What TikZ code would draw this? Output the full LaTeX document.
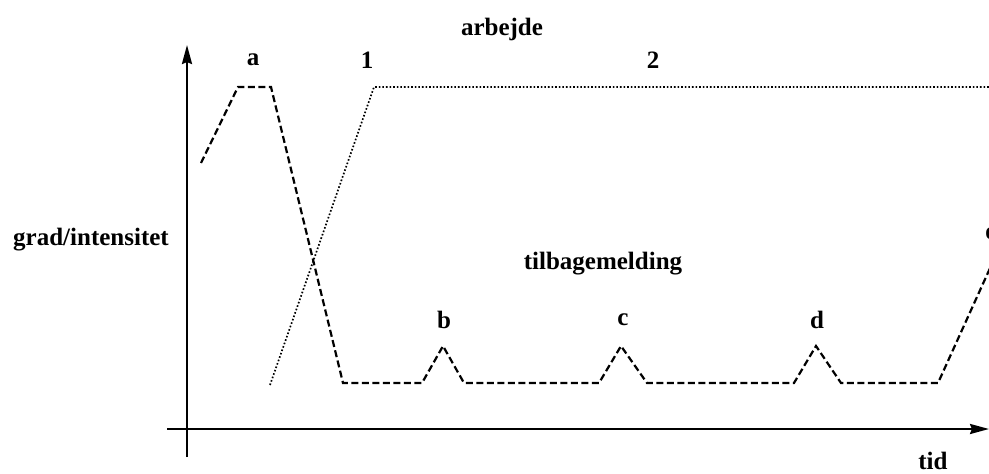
\documentclass[tikz,border=0pt]{standalone}
\usepackage{fontspec}
\setmainfont{Liberation Serif}
\usetikzlibrary{arrows.meta}
\begin{document}
\begin{tikzpicture}[x=1pt,y=-1pt,
  lbl/.style={font=\fontsize{25}{28}\selectfont\bfseries, inner sep=0pt},
  axis/.style={line width=2.4pt, -{Stealth[length=19pt,width=10pt,inset=2pt]}},
  fb/.style={line width=2.2pt, dash pattern=on 7pt off 3.5pt, line join=miter},
  work/.style={line width=1.7pt, dash pattern=on 1.6pt off 2pt}]
\useasboundingbox (0,0) rectangle (989,474);
% axes
\coordinate (yb) at (187,457);
\coordinate (yt) at (187,45);
\coordinate (xl) at (167,429);
\coordinate (xr) at (989,429);
\draw[axis] (yb) -- (yt);
\draw[axis] (xl) -- (xr);
% feedback curve
\coordinate (f0) at (201,163);
\coordinate (f1) at (238,87);
\coordinate (f2) at (271,87);
\coordinate (f3) at (343,383);
\coordinate (f4) at (422,383);
\coordinate (f5) at (443,346);
\coordinate (f6) at (464,383);
\coordinate (f7) at (599,383);
\coordinate (f8) at (621,346);
\coordinate (f9) at (647,383);
\coordinate (f10) at (794,383);
\coordinate (f11) at (816,346);
\coordinate (f12) at (841,383);
\coordinate (f13) at (938,383);
\coordinate (f14) at (991,266);
\draw[fb] (f0) -- (f1) -- (f2) -- (f3) -- (f4) -- (f5) -- (f6) -- (f7) -- (f8) -- (f9) -- (f10) -- (f11) -- (f12) -- (f13) -- (f14);
% work curve
\coordinate (w0) at (270,385);
\coordinate (w1) at (374,87);
\coordinate (w2) at (990,87);
\draw[work] (w0) -- (w1) -- (w2);
% labels
\node[lbl] (arbejde) at (502,29) {arbejde};
\node[lbl] (la) at (253,60) {a};
\node[lbl] (l1) at (367,60) {1};
\node[lbl] (l2) at (653,60) {2};
\node[lbl] (grad) at (91,240) {grad/intensitet};
\node[lbl] (tilb) at (603,264) {tilbagemelding};
\node[lbl] (lb) at (444,320) {b};
\node[lbl] (lc) at (623,320) {c};
\node[lbl] (ld) at (817,320) {d};
\node[lbl] (le) at (991,234) {e};
\node[lbl] (tid) at (933,461) {tid};
\end{tikzpicture}
\end{document}
